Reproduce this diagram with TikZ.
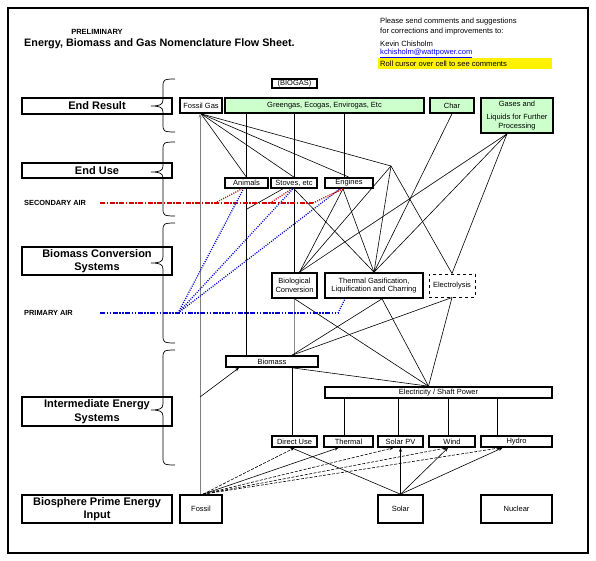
\documentclass[tikz,border=0pt]{standalone}
\usepackage{fontspec}
\setmainfont{Liberation Sans}
\usetikzlibrary{arrows.meta,calc,backgrounds}
\definecolor{lgreen}{RGB}{204,255,204}
\definecolor{airred}{RGB}{210,0,0}
\definecolor{airblue}{RGB}{0,0,210}
\definecolor{linkblue}{RGB}{0,0,255}
\newcommand{\kcbrace}[4]{\draw[bracestyle] (#1+12,#2) .. controls (#1,#2) and (#1,#2+1) .. (#1,#2+8) -- (#1,#3-6) .. controls (#1,#3-1) and (#1-4,#3) .. (#1-12,#3) .. controls (#1-4,#3) and (#1,#3+1) .. (#1,#3+6) -- (#1,#4-8) .. controls (#1,#4-1) and (#1,#4) .. (#1+12,#4);}
\begin{document}
\begin{tikzpicture}[x=1pt,y=-1pt,
  lbox/.style={draw,line width=2.4pt,inner sep=0pt,align=center,font=\fontsize{11}{13.5}\selectfont\bfseries},
  mbox/.style={draw,line width=1.6pt,fill=white,inner sep=0pt,align=center,font=\fontsize{7.5}{8.8}\selectfont},
  gbox/.style={mbox,fill=lgreen},
  link/.style={line width=0.6pt},
  arr/.style={link,-{Stealth[length=4pt,width=3pt]}},
  darr/.style={arr,dash pattern=on 3pt off 1.5pt},
  grayarr/.style={line width=0.9pt,draw=black!50,-{Stealth[length=4pt,width=3pt]},},
  graylink/.style={line width=0.9pt,draw=black!45},
  bracestyle/.style={line width=0.7pt},
  redline/.style={draw=airred,line width=1.4pt,dash pattern=on 5pt off 1.5pt on 1.5pt off 1.5pt},
  reddot/.style={draw=airred,line width=1.3pt,dash pattern=on 1pt off 1.3pt},
  blueline/.style={draw=airblue,line width=1.4pt,dash pattern=on 5pt off 1.5pt on 1.5pt off 1.5pt on 1.5pt off 1.5pt},
  bluedot/.style={draw=airblue,line width=1.3pt,dash pattern=on 1pt off 1.3pt},
  plain/.style={inner sep=0pt,anchor=west,font=\fontsize{7.6}{8.5}\selectfont},
  airlabel/.style={inner sep=0pt,anchor=west,font=\fontsize{7.4}{8.5}\selectfont\bfseries}
]
\useasboundingbox (0,0) rectangle (596,561);
\draw[line width=2pt] (8,8) rectangle (588,553);

% titles
\node[inner sep=0pt,font=\fontsize{7.5}{9}\selectfont\bfseries] (prelim) at (97,32) {PRELIMINARY};
\node[inner sep=0pt,anchor=west,font=\fontsize{10.8}{12}\selectfont\bfseries] (title) at (24,44) {Energy, Biomass and Gas Nomenclature Flow Sheet.};
\node[plain] (c1) at (380,22) {Please send comments and suggestions};
\node[plain] (c2) at (380,31.5) {for corrections and improvements to:};
\node[plain] (c3) at (380,43.5) {Kevin Chisholm};
\node[plain,text=linkblue] (c4) at (380,53.5) {\underline{kchisholm@wattpower.com}};
\node[draw=none,fill=yellow,minimum width=174,minimum height=11,inner sep=0pt] (note) at (465,64) {};
\node[plain] (c5) at (380,64) {Roll cursor over cell to see comments};

% left category boxes
\node[lbox,minimum width=150,minimum height=16] (endresult) at (97,106) {End Result};
\node[lbox,minimum width=150,minimum height=15] (enduse) at (97,170.5) {End Use};
\node[lbox,minimum width=150,minimum height=28] (bcs) at (97,261) {Biomass Conversion\\Systems};
\node[lbox,minimum width=150,minimum height=29] (ies) at (97,411.5) {Intermediate Energy\\Systems};
\node[lbox,minimum width=150,minimum height=28] (bpei) at (97,509) {Biosphere Prime Energy\\Input};

% braces
\kcbrace{163}{79}{106}{132}
\kcbrace{163}{142}{172}{216}
\kcbrace{163}{223}{263}{343}
\kcbrace{163}{350}{410}{465}

% air labels
\node[airlabel] (seclab) at (24,203) {SECONDARY AIR};
\node[airlabel] (primlab) at (24,313) {PRIMARY AIR};

% flow boxes
\node[mbox,minimum width=45,minimum height=9] (biogas) at (294.5,83.5) {(BIOGAS)};
\node[mbox,minimum width=42,minimum height=15] (fossilgas) at (201,105.5) {Fossil Gas};
\node[gbox,minimum width=199,minimum height=15] (greengas) at (324.5,105.5) {Greengas, Ecogas, Envirogas, Etc};
\node[gbox,minimum width=44,minimum height=15] (char) at (452,105.5) {Char};
\node[gbox,minimum width=72,minimum height=35] (gases) at (517,115.5) {Gases and\\[5pt]Liquids for Further\\Processing};
\node[mbox,minimum width=43,minimum height=10] (animals) at (246.5,183) {Animals};
\node[mbox,minimum width=46,minimum height=10] (stoves) at (294,183) {Stoves, etc};
\node[mbox,minimum width=48,minimum height=10] (engines) at (349,183) {Engines};
\node[mbox,minimum width=45,minimum height=25] (bio) at (294.5,285.5) {Biological\\Conversion};
\node[mbox,minimum width=98,minimum height=25] (thermal) at (374,285.5) {Thermal Gasification,\\Liquification and Charring};
\node[mbox,line width=1pt,dashed,minimum width=46,minimum height=23] (electrolysis) at (452,285.5) {Electrolysis};
\node[mbox,minimum width=92,minimum height=11] (biomass) at (272,361.5) {Biomass};
\node[mbox,minimum width=227,minimum height=11] (elec) at (438.5,392.5) {Electricity / Shaft Power};
\node[mbox,minimum width=45,minimum height=11] (direct) at (294.5,441.5) {Direct Use};
\node[mbox,minimum width=49,minimum height=11] (thermal2) at (348.5,441.5) {Thermal};
\node[mbox,minimum width=45,minimum height=11] (solarpv) at (400.5,441.5) {Solar PV};
\node[mbox,minimum width=46,minimum height=11] (wind) at (452,441.5) {Wind};
\node[mbox,minimum width=71,minimum height=11] (hydro) at (516.5,441.5) {Hydro};
\node[mbox,minimum width=42,minimum height=28] (fossil) at (201,509) {Fossil};
\node[mbox,minimum width=45,minimum height=28] (solar) at (400.5,509) {Solar};
\node[mbox,minimum width=71,minimum height=28] (nuclear) at (516.5,509) {Nuclear};

% helper coordinates
\coordinate (J) at (391,166);
\coordinate (BA) at ($(bio.north)+(5,0)$);
\coordinate (EA) at ($(elec.north)+(-10,0)$);
\coordinate (EB) at ($(engines.south)+(-6,0)$);
\coordinate (ET) at ($(engines.north)+(-5,0)$);
\coordinate (GA) at ($(gases.south)+(-10,0)$);
\coordinate (TB) at ($(thermal.south)+(8,0)$);
\coordinate (A1) at (247,209);
\coordinate (G1) at (200,397);
\coordinate (BMB) at ($(biomass.south)+(20,0)$);
\coordinate (BMT) at ($(biomass.north)+(20,0)$);
\coordinate (FO) at ($(fossil.north)+(2,0)$);
\coordinate (FV) at ($(fossil.north)+(-1,0)$);
\coordinate (FGV) at ($(fossilgas.south)+(-1,0)$);
\coordinate (t2top) at ($(thermal2.north)+(-4.5,0)$);
\coordinate (pvtop) at ($(solarpv.north)+(-2.5,0)$);
\coordinate (wtop) at ($(wind.north)+(-4,0)$);
\coordinate (htop) at ($(hydro.north)+(-19.5,0)$);
\coordinate (R0) at (100,203);
\coordinate (R1) at (215,203);
\coordinate (R2) at (270,203);
\coordinate (R3) at (313,203);
\coordinate (P0) at (100,313);
\coordinate (P1) at (178,313);
\coordinate (P2) at (338,313);

\begin{pgfonlayer}{background}
% fossil gas fan
\draw[link] (fossilgas.south) -- (animals.north);
\draw[link] (fossilgas.south) -- (stoves.north);
\draw[link] (fossilgas.south) -- (engines.north);
\draw[link] (fossilgas.south) -- (J);
% greengas verticals
\draw[link] (animals.south |- greengas.south) -- (animals.south |- biomass.north);
\draw[link] (stoves.north |- greengas.south) -- (stoves.north);
\draw[link] (stoves.south) -- (stoves.south |- bio.north);
\draw[link] (ET |- greengas.south) -- (ET);
\draw[link] (A1) -- ($(stoves.south)+(-11,0)$);
% junction and conversions
\draw[link] (J) -- (BA);
\draw[link] (J) -- (thermal.north);
\draw[link] (J) -- (electrolysis.north);
\draw[link] (EB) -- (BA);
\draw[link] (EB) -- (thermal.north);
\draw[link] (stoves.south) -- (thermal.north);
\draw[link] (char.south) -- (thermal.north);
\draw[link] (GA) -- (BA);
\draw[link] (GA) -- (thermal.north);
\draw[link] (GA) -- (electrolysis.north);
% lower conversions
\draw[graylink] (bio.south) -- (bio.south |- biomass.north);
\draw[link] (bio.south) -- (EA);
\draw[link] (TB) -- (BMT);
\draw[link] (TB) -- (EA);
\draw[link] (electrolysis.south) -- (BMT);
\draw[link] (electrolysis.south) -- (EA);
\draw[link] (BMB) -- (EA);
\draw[link] (BMB) -- (BMB |- direct.north);
% electricity branches
\draw[link] (t2top |- elec.south) -- (t2top);
\draw[link] (pvtop |- elec.south) -- (pvtop);
\draw[link] (wtop |- elec.south) -- (wtop);
\draw[link] (htop |- elec.south) -- (htop);
% prime inputs
\draw[grayarr] (FV) -- (FGV);
\draw[arr] (G1) -- ($(biomass.south)+(-33,0)$);
\draw[darr] (FO) -- (direct.south);
\draw[arr] (FO) -- ($(thermal2.south)+(-10,0)$);
\draw[darr] (FO) -- ($(solarpv.south)+(-7,0)$);
\draw[darr] (FO) -- ($(wind.south)+(-5,0)$);
\draw[darr] (FO) -- ($(hydro.south)+(-16,0)$);
\draw[link] (solar.north) -- ($(direct.south)+(-3,0)$);
\draw[arr] (solar.north) -- (solarpv.south);
\draw[arr] (solar.north) -- ($(wind.south)+(-4,0)$);
\draw[arr] (solar.north) -- ($(hydro.south)+(-14,0)$);
\end{pgfonlayer}

% air lines
\draw[redline] (R0) -- (R3);
\draw[reddot] (R1) -- ($(animals.south)+(-4.5,0)$);
\draw[reddot] (R2) -- ($(stoves.south)+(-2,0)$);
\draw[reddot] (R3) -- (EB);
\draw[blueline] (P0) -- (P2);
\draw[bluedot] (P2) -- ($(thermal.south)+(-29,0)$);
\draw[bluedot] (P1) -- ($(animals.south)+(-3,0)$);
\draw[bluedot] (P1) -- ($(stoves.south)+(-1,0)$);
\draw[bluedot] (P1) -- ($(engines.south)+(-9,0)$);
\end{tikzpicture}
\end{document}
